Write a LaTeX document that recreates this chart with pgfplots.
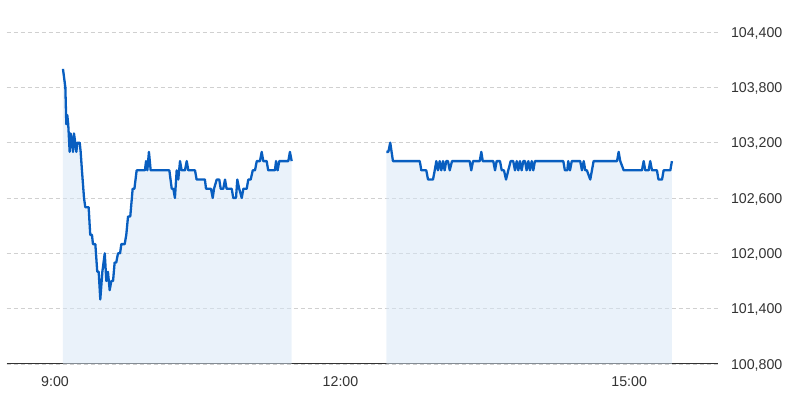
\documentclass[border=0pt]{standalone}
\usepackage{pgfplots}
\usepackage{pgfplotstable}
\pgfplotsset{compat=1.18}
\usepackage{fontspec}
\setmainfont{Liberation Sans}
\definecolor{lineblue}{RGB}{8,94,192}
\definecolor{fillblue}{RGB}{214,230,246}
\definecolor{gridgray}{RGB}{208,208,208}
\definecolor{labelgray}{RGB}{51,51,51}
% minutes after 9:00, price
\pgfplotstableread{
m v
5.0 104000
6.5 103800
7.1 103400
7.7 103500
8.3 103400
9.2 103100
9.8 103300
10.7 103200
11.3 103100
11.9 103300
12.7 103200
13.4 103100
14.0 103200
15.5 103200
16.1 103100
16.9 102900
18.2 102600
19.0 102500
21.1 102500
22.1 102200
23.2 102200
23.8 102100
25.3 102100
26.5 101800
27.4 101800
28.4 101500
29.7 101800
31.2 102000
32.2 101700
33.2 101800
34.3 101600
35.3 101700
36.4 101700
37.4 101900
38.4 101900
39.5 102000
40.8 102000
41.6 102100
43.7 102100
44.7 102200
45.8 102400
47.2 102400
48.7 102700
49.8 102700
51.2 102900
56.4 102900
57.1 103000
57.9 102900
58.9 103100
60.0 102900
71.7 102900
73.2 102700
74.2 102700
75.2 102600
76.3 102900
77.3 102800
78.4 103000
79.4 102900
81.5 102900
82.6 103000
83.6 102900
87.8 102900
88.8 102800
94.0 102800
94.7 102700
97.8 102700
98.9 102600
99.7 102700
101.4 102800
103.0 102800
103.9 102700
105.5 102700
106.6 102800
107.6 102700
110.8 102700
111.8 102600
113.5 102600
114.3 102800
115.5 102700
117.1 102600
118.1 102700
120.2 102700
121.2 102800
122.7 102800
124.0 102900
125.4 102900
126.5 103000
128.5 103000
129.6 103100
130.6 103000
132.7 103000
133.7 102900
137.9 102900
138.6 103000
139.6 102900
140.6 103000
146.3 103000
147.3 103100
148.4 103000
}\morning
\pgfplotstableread{
m v
207.7 103100
209.0 103100
210.2 103200
211.9 103000
228.7 103000
229.7 102900
232.8 102900
233.9 102800
237.0 102800
238.1 102900
239.1 103000
240.1 102900
241.2 103000
242.2 102900
243.3 103000
244.3 102900
245.3 103000
246.4 103000
247.5 102900
248.9 103000
260.0 103000
261.0 102900
262.1 103000
266.3 103000
267.3 103100
268.2 103000
274.8 103000
275.9 102900
276.9 103000
279.0 103000
280.1 102900
281.5 102900
282.8 102800
284.2 102900
285.7 103000
287.3 103000
288.4 102900
289.5 103000
290.5 102900
291.5 103000
292.6 102900
293.6 103000
294.7 103000
295.7 102900
296.8 103000
297.8 102900
298.9 103000
299.9 102900
300.9 103000
318.7 103000
319.7 102900
321.2 102900
321.8 103000
322.9 102900
324.0 103000
329.3 103000
330.4 102900
331.5 103000
332.5 102900
333.5 102900
335.6 102800
337.7 103000
352.4 103000
353.4 103100
354.4 103000
356.6 102900
368.0 102900
369.1 103000
370.1 102900
372.2 102900
373.2 103000
374.3 102900
377.4 102900
378.4 102800
380.6 102800
381.6 102900
385.8 102900
386.8 103000
}\afternoon
\begin{document}
\begin{tikzpicture}[x=1pt,y=1pt]
\useasboundingbox (0,0) rectangle (800,412);
\begin{axis}[
  at={(6.5pt,48pt)}, anchor=south west,
  scale only axis, width=711.5pt, height=364pt,
  xmin=-30.4, xmax=415.7, ymin=100800, ymax=104747,
  axis x line*=bottom, axis y line*=right,
  y axis line style={draw=none},
  x axis line style={labelgray, line width=1pt, -},
  xtick={0,179,360}, xticklabels={9:00,12:00,15:00},
  ytick={100800,101400,102000,102600,103200,103800,104400},
  yticklabels={{100,800},{101,400},{102,000},{102,600},{103,200},{103,800},{104,400}},
  yticklabel pos=right,
  major tick length=0pt,
  ymajorgrids,
  grid style={gridgray, dash pattern=on 4pt off 3pt, line width=0.8pt},
  tick label style={font=\fontsize{14.2}{16}\selectfont, text=labelgray},
  xticklabel style={anchor=base, inner sep=0pt, yshift=-22.7pt},
  yticklabel style={anchor=base west, inner sep=0pt, xshift=12.8pt, yshift=-5.1pt},
  scaled y ticks=false,
]
\addplot[draw=none, fill=fillblue, fill opacity=0.5] table[x=m,y=v]{\morning} \closedcycle;
\addplot[draw=none, fill=fillblue, fill opacity=0.5] table[x=m,y=v]{\afternoon} \closedcycle;
\addplot[lineblue, line width=2.3pt, line join=round, mark=none] table[x=m,y=v]{\morning};
\addplot[lineblue, line width=2.3pt, line join=round, mark=none] table[x=m,y=v]{\afternoon};
\end{axis}
\end{tikzpicture}
\end{document}
